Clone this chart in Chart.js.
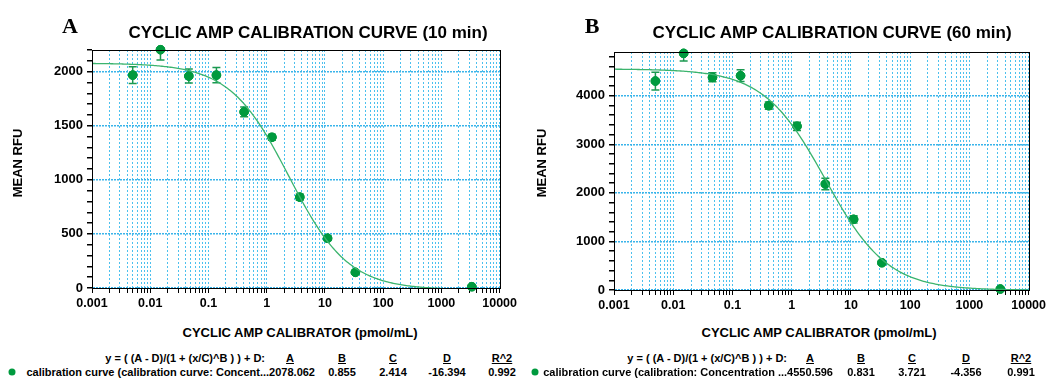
<!DOCTYPE html>
<html>
<head>
<meta charset="utf-8">
<script src="https://cdn.jsdelivr.net/npm/chart.js@4.4.0/dist/chart.umd.min.js"></script>
<style>
  body { margin: 0; background: #fff; font-family: "Liberation Sans", Arial, sans-serif; }
  #wrap { position: relative; width: 1049px; height: 379px; overflow: hidden; }
  canvas { position: absolute; top: 0; }
  .t { position: absolute; white-space: nowrap; font-weight: bold; color: #000; transform: translate(-50%, -50%); }
  .letter { font-family: "Liberation Serif", "Times New Roman", serif; font-size: 22px; }
  .title { font-size: 17px; }
  .axis { font-size: 13px; }
  .yaxis { transform: translate(-50%, -50%) rotate(-90deg); }
  .leg { font-size: 11px; }
  .u { text-decoration: underline; }
  .r { transform: translate(-100%, -50%); }
  .dot { position: absolute; width: 7px; height: 7px; border-radius: 50%; background: #009a3e; transform: translate(-50%, -50%); }
</style>
</head>
<body>
<div id="wrap">
  <canvas id="chartA" width="520" height="320" style="left:0px"></canvas>
  <canvas id="chartB" width="525" height="320" style="left:524px"></canvas>

  <div class="t letter" style="left:70px; top:26px">A</div>
  <div class="t title" style="left:308px; top:33px">CYCLIC AMP CALIBRATION CURVE (10 min)</div>
  <div class="t axis yaxis" style="left:17px; top:163px">MEAN RFU</div>
  <div class="t axis" style="left:300px; top:332px">CYCLIC AMP CALIBRATOR (pmol/mL)</div>
  <div class="t leg r" style="left:265px; top:358px">y = ( (A - D)/(1 + (x/C)^B ) ) + D:</div>
  <div class="t leg u" style="left:290px; top:358px">A</div>
  <div class="t leg u" style="left:342px; top:358px">B</div>
  <div class="t leg u" style="left:393px; top:358px">C</div>
  <div class="t leg u" style="left:447px; top:358px">D</div>
  <div class="t leg u" style="left:502px; top:358px">R^2</div>
  <div class="dot" style="left:12px; top:372px"></div>
  <div class="t leg r" id="legA" style="left:315px; top:372px"></div>
  <div class="t leg" id="bA" style="left:342px; top:372px"></div>
  <div class="t leg" id="cA" style="left:393px; top:372px"></div>
  <div class="t leg" id="dA" style="left:447px; top:372px"></div>
  <div class="t leg" id="rA" style="left:502px; top:372px"></div>

  <div class="t letter" style="left:592px; top:26px">B</div>
  <div class="t title" style="left:832px; top:33px">CYCLIC AMP CALIBRATION CURVE (60 min)</div>
  <div class="t axis yaxis" style="left:541px; top:163px">MEAN RFU</div>
  <div class="t axis" style="left:819px; top:332px">CYCLIC AMP CALIBRATOR (pmol/mL)</div>
  <div class="t leg r" style="left:787px; top:358px">y = ( (A - D)/(1 + (x/C)^B ) ) + D:</div>
  <div class="t leg u" style="left:810px; top:358px">A</div>
  <div class="t leg u" style="left:861px; top:358px">B</div>
  <div class="t leg u" style="left:912px; top:358px">C</div>
  <div class="t leg u" style="left:966px; top:358px">D</div>
  <div class="t leg u" style="left:1021px; top:358px">R^2</div>
  <div class="dot" style="left:535px; top:372px"></div>
  <div class="t leg r" id="legB" style="left:833px; top:372px"></div>
  <div class="t leg" id="bB" style="left:861px; top:372px"></div>
  <div class="t leg" id="cB" style="left:912px; top:372px"></div>
  <div class="t leg" id="dB" style="left:966px; top:372px"></div>
  <div class="t leg" id="rB" style="left:1021px; top:372px"></div>
</div>

<script>
// calibrator concentrations (pmol/mL), same for both runs
const concentrations = [0.005, 0.015, 0.046, 0.137, 0.41, 1.23, 3.7, 11.1, 33.3, 3333];

// 10 min read
const rfu10 = [1968, 2203, 1959, 1968, 1628, 1393, 840, 460, 145, 12];
const err10 = [77, 95, 65, 70, 46, 28, 28, 20, 5, 0];
// 4PL fit shown under the chart: A, B, C, D and R^2
const fit10 = [2078.062, 0.855, 2.414, -16.394];
const r2_10 = 0.992;

// 60 min read
const rfu60 = [4302, 4872, 4378, 4412, 3795, 3370, 2182, 1455, 562, 20];
const err60 = [182, 158, 93, 120, 75, 86, 120, 75, 40, 0];
const fit60 = [4550.596, 0.831, 3.721, -4.356];
const r2_60 = 0.991;

const labelA = "calibration curve (calibration curve: Concent...";
const labelB = "calibration curve (calibration: Concentration ...";

const xTickLabels = ["0.001", "0.01", "0.1", "1", "10", "100", "1000", "10000"];

const GREEN = "#009a3e";
const CURVE = "#3cb46e";

// x positions where the fitted curve is evaluated (log spaced)
const curveX = [];
for (let i = 0; i <= 280; i++) curveX.push(Math.pow(10, -3 + i * 7 / 280));

const fourPL = (x, p) => (p[0] - p[3]) / (1 + Math.pow(x / p[2], p[1])) + p[3];

const errorBars = {
  id: "errorBars",
  afterDatasetDraw(chart, args) {
    if (args.index !== 1) return;
    const ds = chart.data.datasets[1];
    const yScale = chart.scales.y;
    const area = chart.chartArea;
    const ctx = chart.ctx;
    ctx.save();
    ctx.beginPath();
    ctx.rect(area.left, area.top, area.right - area.left, area.bottom - area.top);
    ctx.clip();
    ctx.strokeStyle = "#1a9950";
    ctx.lineWidth = 1.5;
    args.meta.data.forEach((pt, i) => {
      const e = ds.errors[i];
      if (!e) return;
      const top = yScale.getPixelForValue(ds.data[i].y + e);
      const bot = yScale.getPixelForValue(ds.data[i].y - e);
      ctx.beginPath();
      ctx.moveTo(pt.x, top); ctx.lineTo(pt.x, bot);
      ctx.moveTo(pt.x - 4, top); ctx.lineTo(pt.x + 4, top);
      ctx.moveTo(pt.x - 4, bot); ctx.lineTo(pt.x + 4, bot);
      ctx.stroke();
    });
    ctx.restore();
    // redraw the points above the bars
    args.meta.data.forEach(pt => pt.draw(ctx, area));
  }
};

const frame = {
  id: "frame",
  afterDraw(chart) {
    const a = chart.chartArea;
    const ctx = chart.ctx;
    ctx.save();
    ctx.strokeStyle = "#000";
    ctx.lineWidth = 1;
    ctx.setLineDash([]);
    ctx.strokeRect(Math.round(a.left) + 0.5, Math.round(a.top) + 0.5,
      Math.round(a.right - a.left), Math.round(a.bottom - a.top));
    ctx.restore();
  }
};

function makeChart(id, values, errors, fit, yMax, yStep, yMajor, pad, yWidth, xHeight) {
  const ctx = document.getElementById(id).getContext("2d");
  return new Chart(ctx, {
    type: "scatter",
    data: {
      datasets: [
        {
          type: "line",
          data: curveX.map(x => ({ x: x, y: fourPL(x, fit) })),
          borderColor: CURVE,
          borderWidth: 1.3,
          pointRadius: 0,
          fill: false,
        },
        {
          data: concentrations.map((x, i) => ({ x: x, y: values[i] })),
          errors: errors,
          backgroundColor: GREEN,
          borderColor: GREEN,
          pointRadius: 4.3,
          clip: 5,
        },
      ],
    },
    options: {
      responsive: false,
      animation: false,
      devicePixelRatio: 1,
      layout: { padding: pad, autoPadding: false },
      plugins: { legend: { display: false }, tooltip: { enabled: false } },
      scales: {
        x: {
          type: "logarithmic",
          min: 0.001,
          max: 10000,
          afterBuildTicks: (scale) => {
            const t = [];
            for (let n = -3; n < 4; n++) {
              for (let m = 1; m < 10; m++) t.push({ value: Number((m * Math.pow(10, n)).toPrecision(3)) });
            }
            t.push({ value: 10000 });
            scale.ticks = t;
          },
          afterFit: (scale) => { scale.height = xHeight; },
          ticks: {
            autoSkip: false,
            maxRotation: 0,
            padding: 3,
            color: "#000",
            font: { family: "Liberation Sans", size: 12.5, weight: "bold" },
            callback: (v) => {
              const k = Math.round(Math.log10(v));
              return Math.abs(Math.log10(v) - k) < 1e-6 ? xTickLabels[k + 3] : "";
            },
          },
          grid: {
            color: "#4cc0ee",
            lineWidth: 1,
            tickColor: "#000",
            tickLength: 5,
            tickBorderDash: [],
          },
          border: { color: "#000", width: 1, dash: [2, 2] },
        },
        y: {
          min: 0,
          max: yMax,
          afterBuildTicks: (scale) => {
            const t = [];
            for (let v = 0; v <= yMax; v += yStep) t.push({ value: v });
            scale.ticks = t;
          },
          afterFit: (scale) => { scale.width = yWidth; },
          ticks: {
            autoSkip: false,
            padding: 4,
            color: "#000",
            font: { family: "Liberation Sans", size: 13, weight: "bold" },
            callback: (v) => (v % yMajor === 0 ? String(v) : ""),
          },
          grid: {
            color: (c) => (c.tick && c.tick.value % yMajor === 0 ? "#3ab4ea" : "rgba(0,0,0,0)"),
            lineWidth: 1.5,
            tickColor: "#000",
            tickLength: 5,
            tickBorderDash: [],
          },
          border: { color: "#000", width: 1, dash: [2, 1] },
        },
      },
    },
    plugins: [errorBars, frame],
  });
}

makeChart("chartA", rfu10, err10, fit10, 2200, 100, 500,
  { top: 50, left: 0, right: 13, bottom: 0 }, 92, 32);
makeChart("chartB", rfu60, err60, fit60, 4900, 200, 1000,
  { top: 52, left: 0, right: 18, bottom: 0 }, 90, 30);

document.getElementById("legA").textContent = labelA + fit10[0].toFixed(3);
document.getElementById("bA").textContent = fit10[1].toFixed(3);
document.getElementById("cA").textContent = fit10[2].toFixed(3);
document.getElementById("dA").textContent = fit10[3].toFixed(3);
document.getElementById("rA").textContent = r2_10.toFixed(3);
document.getElementById("legB").textContent = labelB + fit60[0].toFixed(3);
document.getElementById("bB").textContent = fit60[1].toFixed(3);
document.getElementById("cB").textContent = fit60[2].toFixed(3);
document.getElementById("dB").textContent = fit60[3].toFixed(3);
document.getElementById("rB").textContent = r2_60.toFixed(3);
</script>
</body>
</html>
